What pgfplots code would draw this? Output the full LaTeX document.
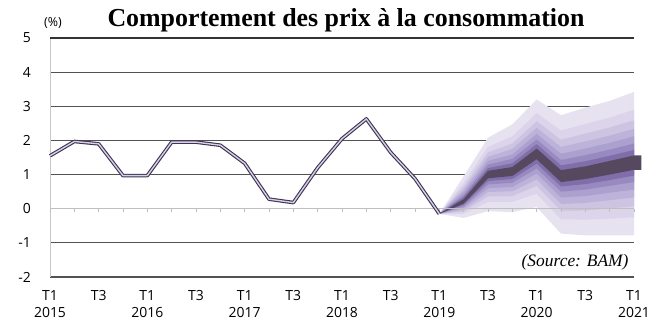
\documentclass[border=0pt]{standalone}
\usepackage{fontspec}
\setmainfont{Liberation Serif}
\newfontfamily\tickfont{Open Sans}
\usepackage{pgfplots}
\pgfplotsset{compat=1.18}
\definecolor{fa}{HTML}{E7E2F0}
\definecolor{fb}{HTML}{DBD4EA}
\definecolor{fc}{HTML}{CDC4E2}
\definecolor{fd}{HTML}{BDB2D9}
\definecolor{fe}{HTML}{ACA0CE}
\definecolor{ff}{HTML}{988AC0}
\definecolor{fg}{HTML}{7F6EA9}
\definecolor{fh}{HTML}{55485F}
\definecolor{histdark}{HTML}{3D3450}
\definecolor{histlight}{HTML}{D8D0E8}
\begin{document}
\begin{tikzpicture}
\useasboundingbox (0,0) rectangle (660bp,330bp);
\begin{axis}[
  at={(50bp,53bp)}, anchor=south west,
  scale only axis, width=584bp, height=239bp,
  xmin=0, xmax=24, ymin=-2, ymax=5,
  axis line style={draw=none},
  ytick={-2,-1,1,2,3,4,5}, yticklabels={-2,-1,1,2,3,4,5},
  extra y ticks={0}, extra y tick labels={0},
  extra y tick style={grid style={draw=none}},
  ymajorgrids, grid style={draw=black!68, line width=1.2bp},
  major tick length=0pt,
  xtick={0,2,...,24},
  xticklabels={{T1\\2015},T3,{T1\\2016},T3,{T1\\2017},T3,{T1\\2018},T3,{T1\\2019},T3,{T1\\2020},T3,{T1\\2021}},
  xticklabel style={font=\fontsize{14}{17}\tickfont, align=center, anchor=north, inner sep=0pt, yshift=-13bp},
  yticklabel style={font=\fontsize{14}{17}\tickfont, anchor=east, inner sep=0pt, xshift=-19bp},
  clip=false,
]
% fan chart bands (outer to inner)
\addplot[fill=fa, draw=none] coordinates {(16,-0.15) (17,0.95) (18,2.08) (19,2.47) (20,3.20) (21,2.74) (22,2.96) (23,3.16) (24,3.42) (24,-0.78) (23,-0.78) (22,-0.78) (21,-0.73) (20,0.05) (19,-0.10) (18,-0.07) (17,-0.27)} -- cycle;
\addplot[fill=fb, draw=none] coordinates {(16,-0.15) (17,0.76) (18,1.81) (19,2.12) (20,2.80) (21,2.29) (22,2.48) (23,2.67) (24,2.90) (24,-0.25) (23,-0.29) (22,-0.32) (21,-0.31) (20,0.44) (19,0.20) (18,0.20) (17,-0.15)} -- cycle;
\addplot[fill=fc, draw=none] coordinates {(16,-0.15) (17,0.65) (18,1.65) (19,1.91) (20,2.56) (21,2.02) (22,2.20) (23,2.38) (24,2.59) (24,0.07) (23,0.01) (22,-0.05) (21,-0.06) (20,0.67) (19,0.37) (18,0.36) (17,-0.08)} -- cycle;
\addplot[fill=fd, draw=none] coordinates {(16,-0.15) (17,0.56) (18,1.52) (19,1.75) (20,2.37) (21,1.81) (22,1.97) (23,2.14) (24,2.34) (24,0.33) (23,0.25) (22,0.17) (21,0.14) (20,0.86) (19,0.51) (18,0.49) (17,-0.03)} -- cycle;
\addplot[fill=fe, draw=none] coordinates {(16,-0.15) (17,0.48) (18,1.40) (19,1.59) (20,2.19) (21,1.61) (22,1.76) (23,1.93) (24,2.12) (24,0.56) (23,0.47) (22,0.37) (21,0.33) (20,1.03) (19,0.64) (18,0.60) (17,0.03)} -- cycle;
\addplot[fill=ff, draw=none] coordinates {(16,-0.15) (17,0.40) (18,1.29) (19,1.46) (20,2.03) (21,1.43) (22,1.57) (23,1.73) (24,1.91) (24,0.78) (23,0.67) (22,0.56) (21,0.50) (20,1.18) (19,0.76) (18,0.71) (17,0.07)} -- cycle;
\addplot[fill=fg, draw=none] coordinates {(16,-0.15) (17,0.34) (18,1.19) (19,1.33) (20,1.89) (21,1.27) (22,1.39) (23,1.55) (24,1.72) (24,0.97) (23,0.84) (22,0.72) (21,0.65) (20,1.32) (19,0.87) (18,0.81) (17,0.12)} -- cycle;
\addplot[fill=fh, draw=none] coordinates {(16,-0.15) (17,0.28) (18,1.11) (19,1.22) (20,1.76) (21,1.13) (22,1.24) (23,1.40) (24,1.56) (24.3,1.56) (24.3,1.14) (24,1.14) (23,1.00) (22,0.87) (21,0.78) (20,1.45) (19,0.96) (18,0.89) (17,0.15)} -- cycle;
% zero line, left axis line and quarter ticks
\draw[black!22, line width=0.9bp] (axis cs:0,-2) -- (axis cs:0,5);
\draw[black!25, line width=0.9bp] (axis cs:0,0) -- (axis cs:24,0);
\pgfplotsinvokeforeach{0,...,24}{\draw[black!25, line width=0.8bp] (axis cs:#1,0) -- (axis cs:#1,-0.1);}
\draw[black!80, line width=1.5bp] (axis cs:0,5) -- (axis cs:24,5);
% historical inflation
\addplot[color=histdark, line width=3.6bp, line join=round] coordinates {(0,1.55) (1,1.97) (2,1.90) (3,0.97) (4,0.97) (5,1.95) (6,1.95) (7,1.86) (8,1.33) (9,0.28) (10,0.18) (11,1.20) (12,2.05) (13,2.63) (14,1.65) (15,0.88) (16,-0.15)};
\addplot[color=histlight, line width=1.4bp, line join=round] coordinates {(0,1.55) (1,1.97) (2,1.90) (3,0.97) (4,0.97) (5,1.95) (6,1.95) (7,1.86) (8,1.33) (9,0.28) (10,0.18) (11,1.20) (12,2.05) (13,2.63) (14,1.65) (15,0.88) (16,-0.15)};
\end{axis}
\node[anchor=base, font=\fontsize{26}{30}\selectfont\bfseries] at (346bp,303bp) {Comportement des prix à la consommation};
\node[anchor=base, font=\fontsize{12.5}{14}\tickfont] at (53bp,303bp) {(\%)};
\node[anchor=base east, font=\fontsize{17.5}{20}\selectfont\itshape] at (632bp,63bp) {(Source: BAM)};
\end{tikzpicture}
\end{document}
